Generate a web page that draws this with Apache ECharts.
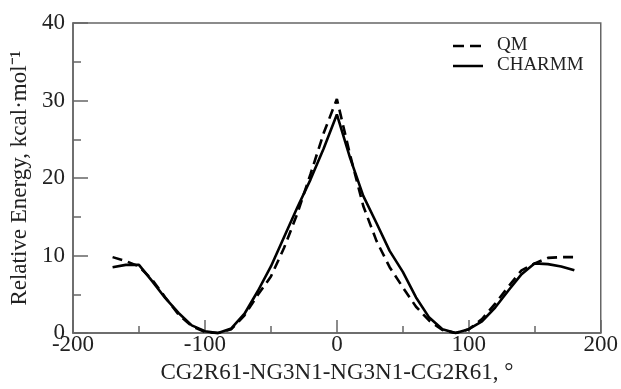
<!DOCTYPE html>
<html>
<head>
<meta charset="utf-8">
<script src="https://cdn.jsdelivr.net/npm/echarts@6/dist/echarts.min.js"></script>
<style>html,body{margin:0;padding:0;background:#fff}#c{width:621px;height:389px}</style>
</head>
<body>
<div id="c"></div>
<script>
var angles = [-170,-160,-150,-140,-130,-120,-110,-100,-90,-80,-70,-60,-50,-40,-30,-20,-10,0,10,20,30,40,50,60,70,80,90,100,110,120,130,140,150,160,170,180];
var qmEnergy = [9.8,9.3,8.6,6.9,4.6,2.4,0.9,0.15,0,0.5,2.3,4.9,7.3,11.0,15.4,20.5,25.8,30.2,23.0,16.4,11.9,8.5,5.9,3.4,1.6,0.4,0,0.5,1.8,3.8,6.0,8.1,9.0,9.7,9.8,9.8];
var charmmEnergy = [8.5,8.8,8.8,6.7,4.5,2.6,1.0,0.25,0,0.6,2.5,5.4,8.6,12.4,16.2,19.8,23.8,28.2,22.6,17.7,14.2,10.6,7.9,4.6,2.0,0.5,0,0.5,1.5,3.3,5.5,7.6,9.0,8.9,8.6,8.1];
var seriesNames = ['QM','CHARMM'];
var xName = 'CG2R61-NG3N1-NG3N1-CG2R61, °';
var yName = 'Relative Energy, kcal·mol⁻¹';

function pairs(xs, ys){ return xs.map(function(x,i){return [x, ys[i]];}); }

var font = 'Liberation Serif, Times New Roman, serif';
var axisColor = '#666';
var chart = echarts.init(document.getElementById('c'), null, {renderer:'canvas'});
chart.setOption({
  animation:false,
  backgroundColor:'#fff',
  grid:{left:73,right:19,top:23,bottom:51,show:true,borderColor:axisColor,borderWidth:1.5,backgroundColor:'transparent'},
  graphic:[
    {type:'line', shape:{x1:453,y1:46,x2:483,y2:46}, style:{stroke:'#000',lineWidth:2.5,lineDash:[11,6]}},
    {type:'text', left:497, top:36, style:{text:seriesNames[0], font:'19px '+font, fill:'#222'}},
    {type:'line', shape:{x1:453,y1:66,x2:483,y2:66}, style:{stroke:'#000',lineWidth:2.5}},
    {type:'text', left:497, top:56, style:{text:seriesNames[1], font:'19px '+font, fill:'#222'}}
  ],
  xAxis:{
    type:'value', min:-200, max:200, interval:100,
    axisLine:{onZero:false,lineStyle:{color:axisColor,width:1.5}},
    axisTick:{inside:true,length:13,lineStyle:{color:axisColor,width:1.5}},
    minorTick:{show:true,splitNumber:2,length:7,lineStyle:{color:axisColor,width:1.5}},
    splitLine:{show:false},
    axisLabel:{fontFamily:font,fontSize:23,color:'#222',margin:0},
    name:xName, nameLocation:'middle', nameGap:27,
    nameTextStyle:{fontFamily:font,fontSize:23,color:'#222'}
  },
  yAxis:{
    type:'value', min:0, max:40, interval:10,
    axisLine:{onZero:false,lineStyle:{color:axisColor,width:1.5}},
    axisTick:{inside:true,length:15,lineStyle:{color:axisColor,width:1.5}},
    minorTick:{show:true,splitNumber:2,length:8,lineStyle:{color:axisColor,width:1.5}},
    splitLine:{show:false},
    axisLabel:{fontFamily:font,fontSize:23,color:'#222',margin:8},
    name:yName, nameLocation:'middle', nameGap:42, nameRotate:90,
    nameTextStyle:{fontFamily:font,fontSize:23,color:'#222'}
  },
  series:[
    {name:seriesNames[0], type:'line', data:pairs(angles,qmEnergy), symbol:'none', itemStyle:{color:'#000'},
     lineStyle:{color:'#000',width:2.6,type:[10,6]}},
    {name:seriesNames[1], type:'line', data:pairs(angles,charmmEnergy), symbol:'none', itemStyle:{color:'#000'},
     lineStyle:{color:'#000',width:2.6,type:'solid'}}
  ]
});
</script>
</body>
</html>
